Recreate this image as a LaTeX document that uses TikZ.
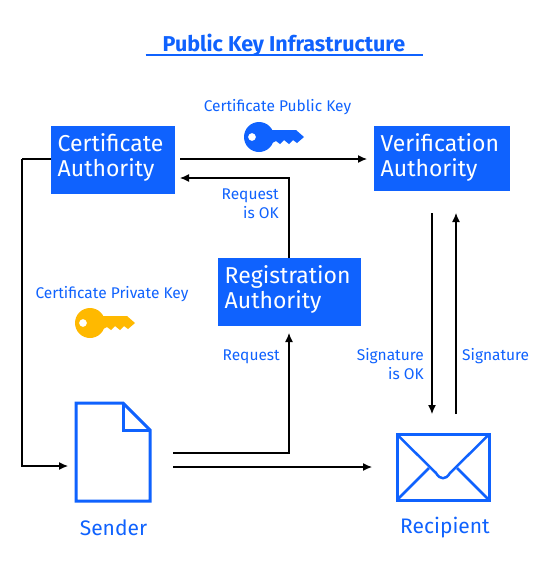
\documentclass[tikz,border=0pt]{standalone}
\usepackage{fontspec}
\setmainfont{Fira Sans}
\usetikzlibrary{arrows.meta}
\definecolor{ibm}{HTML}{0F62FE}
\definecolor{gold}{HTML}{FFB900}
\tikzset{
  boxnode/.style={fill=ibm,text=white,inner sep=0pt,anchor=north west,align=left,font=\fontsize{23}{25}\selectfont},
  lab/.style={text=ibm,inner sep=0pt,font=\fontsize{15.5}{19}\selectfont},
  iconlab/.style={text=ibm,inner sep=0pt,font=\fontsize{21}{24}\selectfont},
  conn/.style={black,line width=1.2pt,-{Latex[length=9pt,width=8pt]}},
  icon/.style={ibm,line width=3pt,line join=miter}
}
\newcommand{\keyshape}[3]{%
  \fill[#3,even odd rule] (#1,#2) circle (15) (#1-7,#2) circle (4);
  \fill[#3] (#1+10,#2-7) -- (#1+37,#2-7) -- (#1+45,#2) -- (#1+38,#2+6) -- (#1+34,#2+3) -- (#1+30,#2+7) -- (#1+25,#2+3) -- (#1+21,#2+7) -- (#1+17,#2+4) -- (#1+13,#2+6) -- (#1+10,#2+6) -- cycle;
}
\begin{document}
\begin{tikzpicture}[x=1pt,y=-1pt]
\useasboundingbox (0,0) rectangle (550,576);
\fill[white] (0,0) rectangle (550,576);

\node[inner sep=0pt,text=ibm,font=\fontsize{21.5}{24}\selectfont\bfseries] (title) at (284,45) {Public Key Infrastructure};
\draw[ibm,line width=1.6pt] (145.5,55) -- (423,55);

\node[boxnode,minimum width=124pt,minimum height=68pt,text width=116pt,inner xsep=0pt] (ca) at (51,126) {};
\node[anchor=west,text=white,inner sep=0pt,align=left,font=\fontsize{23}{25}\selectfont] (catext) at (57.5,157) {Certificate\\Authority};
\node[boxnode,minimum width=136pt,minimum height=65pt] (va) at (374,126) {};
\node[anchor=west,text=white,inner sep=0pt,align=left,font=\fontsize{23}{25}\selectfont] (vatext) at (380.5,157) {Verification\\Authority};
\node[boxnode,minimum width=143pt,minimum height=68pt] (ra) at (218,258) {};
\node[anchor=west,text=white,inner sep=0pt,align=left,font=\fontsize{23}{25}\selectfont] (ratext) at (224.5,289) {Registration\\Authority};

\node[lab] (cpub) at (277.5,107) {Certificate Public Key};
\node[lab] (cpriv) at (112,294) {Certificate Private Key};
\node[lab,align=right,anchor=east] (reqok) at (279,204) {Request\\is OK};
\node[lab,anchor=east] (req) at (280,357) {Request};
\node[lab,align=right,anchor=east] (sigok) at (424,364) {Signature\\is OK};
\node[lab,anchor=west] (sig) at (462,356) {Signature};
\node[iconlab] (sender) at (113.5,528) {Sender};
\node[iconlab] (recipient) at (445,528) {Recipient};

\keyshape{259}{137}{ibm}
\keyshape{90}{323}{gold}

% document
\draw[icon] (76,403) -- (123,403) -- (150,430) -- (150,501) -- (76,501) -- cycle;
\draw[icon] (123,403) -- (123,430) -- (150,430);
% envelope
\draw[icon] (397,434.5) rectangle (489,500);
\draw[ibm,line width=2.5pt,line join=round] (397,434.5) -- (436,473) .. controls (440,480) and (446,480) .. (450,473) -- (489,434.5);
\draw[ibm,line width=2.5pt] (429,468) -- (397,500) (457,468) -- (489,500);

\coordinate (sendtop) at (173,453);
\coordinate (sendmid) at (173,467);
\coordinate (sendin) at (68,466);
\coordinate (recvin) at (372,467);
\coordinate (vaout) at (432,213);
\coordinate (vain) at (456,213);
\coordinate (recvtl) at (432,414);
\coordinate (recvtr) at (456,414);
\coordinate (capubout) at (180,159);
\coordinate (vapubin) at (367,159);
\coordinate (careq) at (180,178);
\coordinate (raup) at (289,333);
\coordinate (caleft) at (22,159);

\draw[conn] (capubout) -- (vapubin);
\draw[conn] (ra.north -| raup) |- (careq);
\draw[conn,-] (ca.west |- caleft) -- (caleft);
\draw[conn] (caleft) |- (sendin);
\draw[conn] (sendtop) -| (raup);
\draw[conn] (sendmid) -- (recvin);
\draw[conn] (vaout) -- (recvtl);
\draw[conn] (recvtr) -- (vain);
\end{tikzpicture}
\end{document}
